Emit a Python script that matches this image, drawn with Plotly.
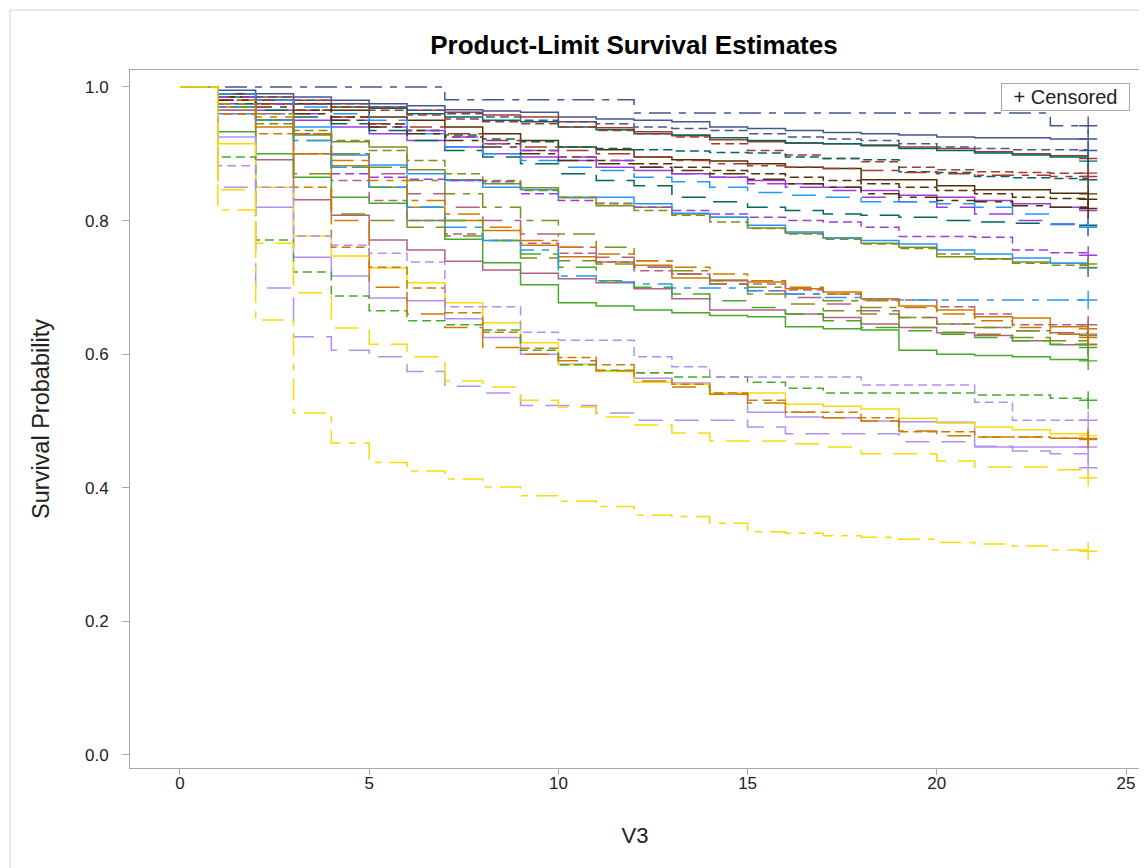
import plotly.graph_objects as go

TIMES = list(range(0, 25))

BLUE_S = [1, .995, .99, .985, .98, .975, .972, .966, .964, .962, .955, .952, .95, .948, .94, .938, .935, .932, .930, .928, .925, .924, .924, .922, .922]
BLUE_D = [1, .99, .985, .98, .975, .97, .965, .96, .955, .95, .948, .945, .94, .938, .935, .93, .925, .922, .92, .915, .91, .908, .906, .906, .905]
BLUE_DD = [1, 1, 1, 1, 1, 1, 1, .981, .981, .981, .981, .981, .961, .961, .961, .961, .961, .961, .961, .961, .961, .961, .961, .942, .942]
RED_S = [1, .99, .985, .98, .975, .97, .965, .962, .958, .955, .948, .939, .933, .927, .921, .918, .916, .915, .913, .910, .908, .903, .900, .897, .893]
RED_D = [1, .985, .98, .975, .97, .965, .958, .952, .948, .945, .94, .935, .93, .925, .915, .905, .898, .893, .888, .88, .876, .873, .872, .871, .871]
RED_DD = [1, .98, .975, .965, .955, .945, .94, .93, .92, .91, .905, .9, .895, .89, .885, .882, .88, .878, .875, .872, .87, .868, .868, .866, .866]
TEAL_S = [1, .985, .98, .975, .97, .968, .96, .955, .95, .948, .94, .936, .93, .928, .924, .92, .916, .915, .912, .908, .905, .901, .898, .895, .889]
TEAL_D = [1, .98, .975, .965, .955, .945, .935, .928, .922, .918, .91, .908, .906, .904, .902, .901, .895, .893, .891, .873, .872, .866, .864, .863, .861]
TEAL_L = [1, .975, .965, .955, .945, .935, .92, .905, .895, .885, .87, .86, .852, .835, .828, .82, .815, .81, .808, .805, .80, .798, .796, .794, .793]
BROWN_S = [1, .99, .98, .975, .965, .955, .95, .94, .93, .92, .91, .906, .895, .891, .889, .885, .88, .878, .861, .861, .852, .846, .846, .841, .840]
BROWN_D = [1, .985, .975, .965, .955, .945, .935, .925, .915, .905, .895, .89, .885, .88, .875, .87, .865, .86, .855, .85, .845, .84, .835, .833, .832]
BROWN_DD = [1, .98, .97, .96, .95, .94, .93, .92, .91, .9, .89, .885, .88, .875, .87, .862, .855, .85, .84, .835, .83, .828, .822, .82, .818]
PURPLE_S = [1, .975, .965, .95, .94, .93, .92, .91, .9, .895, .89, .88, .875, .87, .865, .86, .855, .85, .845, .838, .835, .83, .825, .82, .815]
PURPLE_D = [1, .96, .95, .93, .87, .865, .862, .86, .858, .84, .83, .826, .82, .815, .81, .805, .80, .798, .79, .776, .776, .775, .756, .752, .748]
PURPLE_L = [1, .985, .975, .96, .95, .94, .935, .925, .915, .905, .895, .89, .88, .87, .865, .855, .85, .845, .835, .828, .82, .81, .80, .795, .79]
OLIVE_S = [1, .965, .951, .928, .918, .91, .876, .861, .855, .849, .834, .822, .82, .81, .805, .789, .781, .774, .766, .76, .746, .743, .738, .736, .735]
OLIVE_D = [1, .96, .945, .935, .92, .905, .89, .87, .86, .845, .835, .825, .815, .808, .798, .788, .78, .772, .765, .758, .75, .742, .736, .733, .73]
OLIVE_L = [1, .97, .95, .87, .81, .80, .79, .777, .77, .744, .74, .735, .73, .72, .705, .69, .675, .665, .66, .64, .633, .63, .625, .62, .615]
OLIVE_DD = [1, .975, .96, .93, .9, .88, .86, .84, .82, .8, .78, .76, .74, .725, .71, .7, .69, .68, .67, .655, .645, .64, .635, .63, .628]
LBLUE_S = [1, .96, .95, .94, .898, .883, .87, .86, .85, .846, .835, .835, .825, .811, .805, .793, .783, .774, .77, .765, .756, .75, .744, .736, .729]
LBLUE_L = [1, .99, .98, .97, .96, .95, .93, .91, .9, .89, .88, .875, .865, .858, .85, .842, .838, .835, .828, .828, .825, .82, .81, .795, .79]
LBLUE_DD = [1, .97, .95, .92, .88, .85, .82, .79, .77, .756, .717, .708, .705, .699, .699, .695, .69, .685, .681, .681, .681, .681, .681, .681, .681]
PINK_S = [1, .965, .891, .831, .808, .771, .756, .739, .726, .721, .713, .707, .698, .683, .666, .666, .66, .655, .645, .64, .632, .628, .62, .614, .614]
PINK_D = [1, .97, .95, .9, .86, .83, .8, .78, .77, .766, .751, .738, .725, .72, .71, .705, .696, .69, .681, .681, .671, .66, .644, .644, .644]
PINK_L = [1, .98, .96, .93, .9, .87, .84, .82, .8, .78, .76, .745, .73, .72, .705, .695, .685, .675, .665, .655, .645, .64, .635, .632, .63]
ORANGE_S = [1, .97, .94, .9, .882, .85, .82, .8, .785, .763, .746, .738, .733, .714, .711, .708, .698, .693, .683, .672, .666, .656, .654, .641, .638]
ORANGE_D = [1, .96, .93, .85, .76, .73, .699, .662, .633, .609, .595, .584, .572, .555, .542, .531, .513, .513, .505, .484, .484, .476, .476, .474, .472]
ORANGE_L = [1, .98, .95, .9, .8, .7, .66, .64, .61, .6, .59, .575, .56, .551, .54, .527, .513, .505, .5, .485, .478, .476, .476, .474, .474]
ORANGE_DD = [1, .975, .955, .93, .89, .86, .83, .81, .79, .77, .76, .75, .74, .73, .72, .71, .7, .69, .68, .67, .66, .65, .64, .63, .625]
GREEN_S = [1, .933, .9, .865, .835, .826, .80, .772, .737, .704, .677, .672, .666, .662, .658, .656, .641, .638, .636, .606, .60, .598, .596, .592, .59]
GREEN_D = [1, .895, .771, .723, .687, .665, .65, .644, .636, .606, .584, .576, .572, .566, .566, .558, .549, .542, .542, .542, .542, .539, .539, .534, .531]
GREEN_L = [1, .97, .95, .92, .88, .85, .82, .8, .77, .75, .73, .71, .7, .69, .68, .67, .66, .65, .64, .635, .63, .625, .62, .615, .61]
LAV_S = [1, .925, .82, .745, .717, .684, .68, .653, .625, .6, .585, .575, .564, .557, .54, .513, .506, .505, .5, .499, .498, .461, .461, .461, .461]
LAV_D = [1, .882, .85, .777, .763, .751, .738, .671, .671, .633, .621, .621, .596, .581, .566, .566, .566, .566, .554, .554, .554, .528, .501, .501, .501]
LAV_L = [1, .85, .699, .626, .606, .596, .574, .552, .542, .523, .523, .512, .501, .501, .501, .491, .481, .481, .481, .469, .469, .462, .455, .451, .43]
YEL_S = [1, .915, .85, .777, .747, .729, .707, .677, .647, .617, .584, .574, .558, .555, .542, .542, .525, .522, .518, .504, .497, .491, .487, .481, .478]
YEL_L = [1, .846, .766, .692, .639, .615, .596, .56, .551, .531, .521, .506, .494, .482, .47, .47, .466, .461, .451, .451, .44, .431, .431, .427, .415]
YEL_DD = [1, .816, .651, .512, .467, .438, .425, .413, .401, .388, .38, .372, .359, .357, .347, .334, .332, .328, .326, .323, .318, .316, .313, .307, .305]

COLORS = {
    "blue": "#445694", "red": "#A23A2E", "teal": "#01665E", "brown": "#543005",
    "purple": "#9D3CDB", "olive": "#7F8E1F", "lblue": "#2597FA", "pink": "#B26084",
    "orange": "#D17800", "green": "#47A82A", "lav": "#B38EF3", "yellow": "#F9DA04",
}
DASHES = {"S": "solid", "D": "9px,5px", "L": "24px,12px", "DD": "22px,8px,7px,8px"}

CURVES = [
    ("blue", "S", BLUE_S), ("red", "S", RED_S), ("teal", "S", TEAL_S), ("brown", "S", BROWN_S),
    ("purple", "S", PURPLE_S), ("olive", "S", OLIVE_S), ("lblue", "S", LBLUE_S), ("pink", "S", PINK_S),
    ("orange", "S", ORANGE_S), ("green", "S", GREEN_S), ("lav", "S", LAV_S), ("yellow", "S", YEL_S),
    ("blue", "D", BLUE_D), ("red", "D", RED_D), ("teal", "D", TEAL_D), ("brown", "D", BROWN_D),
    ("purple", "D", PURPLE_D), ("olive", "D", OLIVE_D), ("pink", "D", PINK_D),
    ("orange", "D", ORANGE_D), ("green", "D", GREEN_D), ("lav", "D", LAV_D),
    ("teal", "L", TEAL_L), ("purple", "L", PURPLE_L), ("olive", "L", OLIVE_L), ("lblue", "L", LBLUE_L),
    ("pink", "L", PINK_L), ("orange", "L", ORANGE_L), ("green", "L", GREEN_L), ("lav", "L", LAV_L),
    ("yellow", "L", YEL_L),
    ("blue", "DD", BLUE_DD), ("red", "DD", RED_DD), ("brown", "DD", BROWN_DD), ("olive", "DD", OLIVE_DD),
    ("lblue", "DD", LBLUE_DD), ("orange", "DD", ORANGE_DD), ("yellow", "DD", YEL_DD),
]

fig = go.Figure()
for cname, pat, vals in CURVES:
    col = COLORS[cname]
    fig.add_trace(go.Scatter(
        x=TIMES, y=vals, mode="lines", line_shape="hv",
        line=dict(color=col, width=1.5, dash=DASHES[pat]),
        showlegend=False, hoverinfo="skip"))
    fig.add_trace(go.Scatter(
        x=[TIMES[-1]], y=[vals[-1]], mode="markers",
        marker=dict(symbol="cross-thin", size=13, line=dict(color=col, width=1.4)),
        showlegend=False, hoverinfo="skip"))

# page has an 8px body offset: figure coordinates = screenshot coordinates - 8
L, T, R, B = 122, 62, 15, 108
PW = 1147 - L - R
PH = 868 - T - B

FONT = "Liberation Sans, Arial, sans-serif"
fig.update_layout(
    width=1147, height=868,
    margin=dict(l=L, r=R, t=T, b=B),
    paper_bgcolor="white", plot_bgcolor="white",
    font=dict(family=FONT, color="#000000"),
    title=dict(text="<b>Product-Limit Survival Estimates</b>", xref="paper", x=0.499, xanchor="center",
               yref="container", y=1 - 37 / 868, yanchor="middle", font=dict(size=26, family=FONT)),
    showlegend=False,
)
fig.update_xaxes(
    range=[-1.321, 25.37], tickmode="array", tickvals=[0, 5, 10, 15, 20, 25],
    showgrid=False, zeroline=False, showline=True, mirror=True, linecolor="#a8a8a8", linewidth=1,
    ticks="outside", ticklen=6, tickcolor="#a8a8a8", tickfont=dict(size=17, color="#222"),
    ticklabelstandoff=-6,
    title=dict(text="V3", font=dict(size=22, color="#222"), standoff=35),
)
fig.update_yaxes(
    range=[-0.0195, 1.0254], tickmode="array", tickvals=[0, 0.2, 0.4, 0.6, 0.8, 1.0],
    tickformat=".1f",
    showgrid=False, zeroline=False, showline=True, mirror=True, linecolor="#a8a8a8", linewidth=1,
    ticks="outside", ticklen=7, tickcolor="#a8a8a8", tickfont=dict(size=17, color="#222"),
    ticklabelstandoff=10,
    title=dict(text="Survival Probability", font=dict(size=23.5, color="#222"), standoff=28),
)
fig.add_annotation(
    text="+ Censored", xref="paper", yref="paper", x=(1122 - L) / PW, y=(868 - B - 75) / PH,
    xanchor="right", yanchor="top", showarrow=False, width=125, height=24, align="center",
    font=dict(size=20, color="#222", family=FONT),
    bordercolor="#a8a8a8", borderwidth=1, borderpad=1, bgcolor="white")
# outer frame of the graph image (top and left edges)
fx = (2 - L) / PW
fy = (868 - B - 2) / PH
fig.add_shape(type="line", xref="paper", yref="paper",
              x0=fx, x1=fx, y0=fy, y1=-0.3, line=dict(color="#d0d0d0", width=1))
fig.add_shape(type="line", xref="paper", yref="paper",
              x0=fx, x1=1.1, y0=fy, y1=fy, line=dict(color="#d0d0d0", width=1))

fig.write_html("out.html")
